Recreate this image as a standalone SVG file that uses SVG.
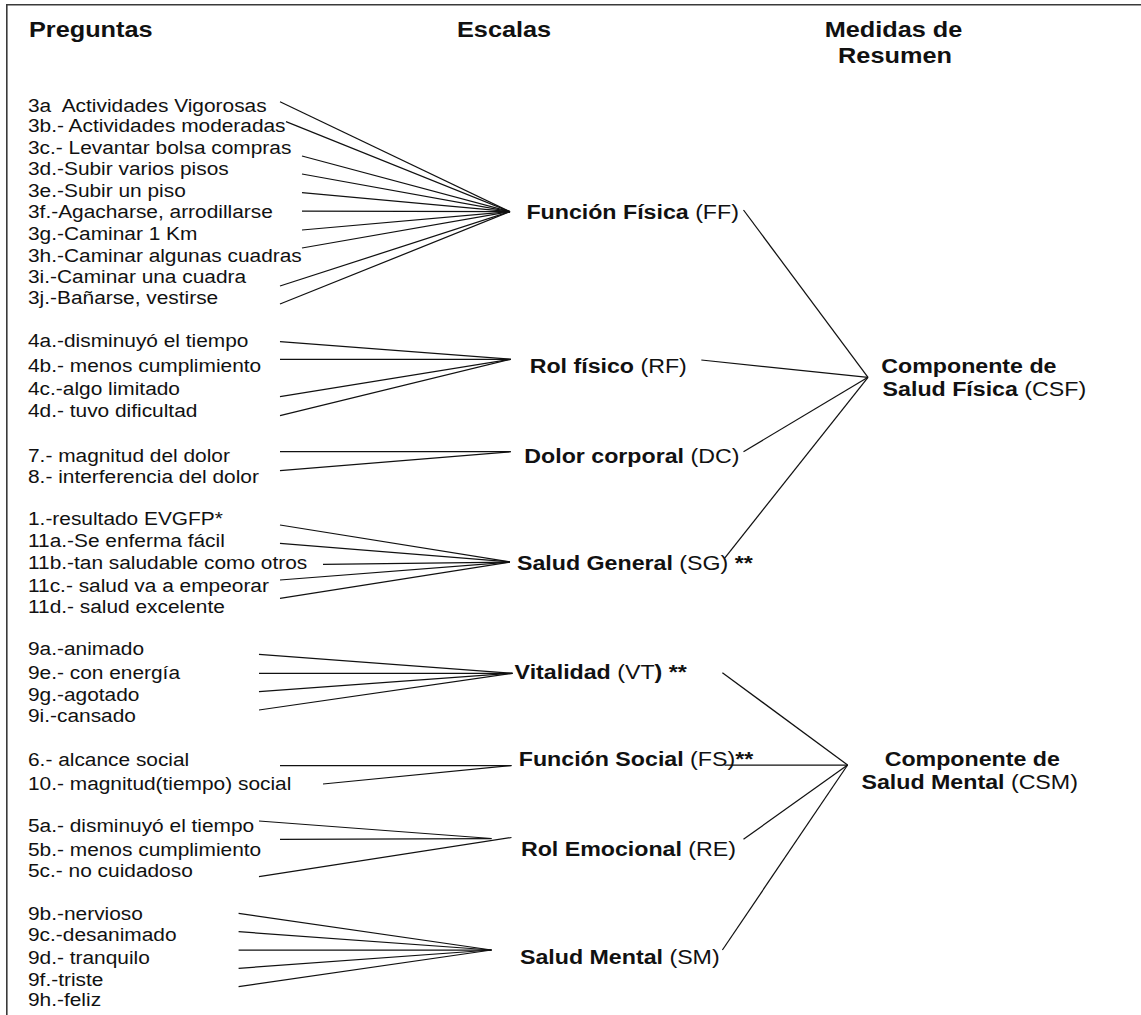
<svg xmlns="http://www.w3.org/2000/svg" width="1141" height="1015" viewBox="0 0 1141 1015">
<style>
text{font-family:"Liberation Sans",Arial,sans-serif;fill:#111}
.h{font-size:21.8px;font-weight:bold}
.s{font-size:20px}
.s .b{font-weight:bold}
.q{font-size:18px}
.c line{stroke:#111;stroke-width:1.25}
.frame{stroke:#3a3a3a;stroke-width:1.6;fill:none}
</style>
<rect width="1141" height="1015" fill="#fff"/>
<path class="frame" d="M6.8,1015 V4.8 H1141"/>
<g id="headers">
<text class="h" transform="translate(29,37) scale(1.16,1)">Preguntas</text>
<text class="h" transform="translate(457,37) scale(1.16,1)">Escalas</text>
<text class="h" text-anchor="middle" transform="translate(893.5,37) scale(1.16,1)">Medidas de</text>
<text class="h" text-anchor="middle" transform="translate(895,62.7) scale(1.16,1)">Resumen</text>
</g>
<g id="preguntas">
<text class="q" transform="translate(28,111.7) scale(1.16,1)">3a&#160; Actividades Vigorosas</text>
<text class="q" transform="translate(28,132.3) scale(1.16,1)">3b.- Actividades moderadas</text>
<text class="q" transform="translate(28,154) scale(1.16,1)">3c.- Levantar bolsa compras</text>
<text class="q" transform="translate(28,175) scale(1.16,1)">3d.-Subir varios pisos</text>
<text class="q" transform="translate(28,196.7) scale(1.16,1)">3e.-Subir un piso</text>
<text class="q" transform="translate(28,218.3) scale(1.16,1)">3f.-Agacharse, arrodillarse</text>
<text class="q" transform="translate(28,240) scale(1.16,1)">3g.-Caminar 1 Km</text>
<text class="q" transform="translate(28,261.7) scale(1.16,1)">3h.-Caminar algunas cuadras</text>
<text class="q" transform="translate(28,282.7) scale(1.16,1)">3i.-Caminar una cuadra</text>
<text class="q" transform="translate(28,304) scale(1.16,1)">3j.-Bañarse, vestirse</text>
<text class="q" transform="translate(28,346.7) scale(1.16,1)">4a.-disminuyó el tiempo</text>
<text class="q" transform="translate(28,371.7) scale(1.16,1)">4b.- menos cumplimiento</text>
<text class="q" transform="translate(28,395) scale(1.16,1)">4c.-algo limitado</text>
<text class="q" transform="translate(28,416.7) scale(1.16,1)">4d.- tuvo dificultad</text>
<text class="q" transform="translate(28,461.7) scale(1.16,1)">7.- magnitud del dolor</text>
<text class="q" transform="translate(28,483.3) scale(1.16,1)">8.- interferencia del dolor</text>
<text class="q" transform="translate(28,525) scale(1.16,1)">1.-resultado EVGFP*</text>
<text class="q" transform="translate(28,546.7) scale(1.16,1)">11a.-Se enferma fácil</text>
<text class="q" transform="translate(28,569.3) scale(1.16,1)">11b.-tan saludable como otros</text>
<text class="q" transform="translate(28,591.7) scale(1.16,1)">11c.- salud va a empeorar</text>
<text class="q" transform="translate(28,612.7) scale(1.16,1)">11d.- salud excelente</text>
<text class="q" transform="translate(28,655) scale(1.16,1)">9a.-animado</text>
<text class="q" transform="translate(28,679.3) scale(1.16,1)">9e.- con energía</text>
<text class="q" transform="translate(28,701) scale(1.16,1)">9g.-agotado</text>
<text class="q" transform="translate(28,721.7) scale(1.16,1)">9i.-cansado</text>
<text class="q" transform="translate(28,766) scale(1.16,1)">6.- alcance social</text>
<text class="q" transform="translate(28,790) scale(1.16,1)">10.- magnitud(tiempo) social</text>
<text class="q" transform="translate(28,831.7) scale(1.16,1)">5a.- disminuyó el tiempo</text>
<text class="q" transform="translate(28,856) scale(1.16,1)">5b.- menos cumplimiento</text>
<text class="q" transform="translate(28,877.3) scale(1.16,1)">5c.- no cuidadoso</text>
<text class="q" transform="translate(28,920) scale(1.16,1)">9b.-nervioso</text>
<text class="q" transform="translate(28,940.7) scale(1.16,1)">9c.-desanimado</text>
<text class="q" transform="translate(28,964) scale(1.16,1)">9d.- tranquilo</text>
<text class="q" transform="translate(28,986) scale(1.16,1)">9f.-triste</text>
<text class="q" transform="translate(28,1006) scale(1.16,1)">9h.-feliz</text>
</g>
<g id="FF"><text class="s" transform="translate(526.4,219.3) scale(1.16,1)"><tspan class="b">Función Física </tspan>(FF)</text></g>
<g id="RF"><text class="s" transform="translate(529.7,372.7) scale(1.16,1)"><tspan class="b">Rol físico </tspan>(RF)</text></g>
<g id="DC"><text class="s" transform="translate(524.3,462.7) scale(1.16,1)"><tspan class="b">Dolor corporal </tspan>(DC)</text></g>
<g id="SG"><text class="s" transform="translate(517,570) scale(1.16,1)"><tspan class="b">Salud General </tspan>(SG)<tspan class="b"> **</tspan></text></g>
<g id="VT"><text class="s" transform="translate(514.6,679.3) scale(1.16,1)"><tspan class="b">Vitalidad </tspan>(VT<tspan class="b">) **</tspan></text></g>
<g id="FS"><text class="s" transform="translate(518.8,766) scale(1.16,1)"><tspan class="b">Función Social </tspan>(FS)<tspan class="b">**</tspan></text></g>
<g id="RE"><text class="s" transform="translate(520.9,856) scale(1.16,1)"><tspan class="b">Rol Emocional </tspan>(RE)</text></g>
<g id="SM"><text class="s" transform="translate(520,964) scale(1.16,1)"><tspan class="b">Salud Mental </tspan>(SM)</text></g>
<g id="CSF">
<text class="s" transform="translate(881.3,372.7) scale(1.16,1)"><tspan class="b">Componente de</tspan></text>
<text class="s" transform="translate(882.6,396) scale(1.16,1)"><tspan class="b">Salud Física </tspan>(CSF)</text>
</g>
<g id="CSM">
<text class="s" transform="translate(884.7,766) scale(1.16,1)"><tspan class="b">Componente de</tspan></text>
<text class="s" transform="translate(861.5,789.3) scale(1.16,1)"><tspan class="b">Salud Mental </tspan>(CSM)</text>
</g>
<g id="connectors" class="c">
<line x1="280" y1="101.7" x2="510" y2="211.7"/>
<line x1="286" y1="121.7" x2="510" y2="211.7"/>
<line x1="302" y1="156" x2="510" y2="211.7"/>
<line x1="302" y1="174" x2="510" y2="211.7"/>
<line x1="302" y1="192.7" x2="510" y2="211.7"/>
<line x1="302" y1="211" x2="510" y2="211.7"/>
<line x1="302" y1="230" x2="510" y2="211.7"/>
<line x1="302" y1="248" x2="510" y2="211.7"/>
<line x1="280" y1="286" x2="510" y2="211.7"/>
<line x1="280" y1="304" x2="510" y2="211.7"/>
<line x1="280" y1="341.7" x2="510.7" y2="359.3"/>
<line x1="280" y1="359.3" x2="510.7" y2="359.3"/>
<line x1="280" y1="396.7" x2="510.7" y2="359.3"/>
<line x1="280" y1="415.7" x2="510.7" y2="359.3"/>
<line x1="280" y1="451.7" x2="510.7" y2="451.7"/>
<line x1="280" y1="470.7" x2="510.7" y2="451.7"/>
<line x1="280" y1="525" x2="510" y2="562"/>
<line x1="280" y1="543.3" x2="510" y2="562"/>
<line x1="323" y1="564.3" x2="510" y2="562"/>
<line x1="280" y1="580" x2="510" y2="562"/>
<line x1="280" y1="598.3" x2="510" y2="562"/>
<line x1="259" y1="654.3" x2="512.5" y2="673.3"/>
<line x1="259" y1="673.3" x2="512.5" y2="673.3"/>
<line x1="259" y1="691.7" x2="512.5" y2="673.3"/>
<line x1="259" y1="710" x2="512.5" y2="673.3"/>
<line x1="280" y1="765.7" x2="511.5" y2="765.5"/>
<line x1="323" y1="784" x2="511.5" y2="765.5"/>
<line x1="259" y1="821" x2="491.5" y2="838.5"/>
<line x1="280" y1="839.3" x2="491.5" y2="838.5"/>
<line x1="259" y1="876.7" x2="511.5" y2="837.5"/>
<line x1="238.6" y1="913.3" x2="491.5" y2="950"/>
<line x1="238.6" y1="931.7" x2="491.5" y2="950"/>
<line x1="238.6" y1="950" x2="491.5" y2="950"/>
<line x1="238.6" y1="968.3" x2="491.5" y2="950"/>
<line x1="238.6" y1="986.7" x2="491.5" y2="950"/>
<line x1="743.5" y1="210" x2="868" y2="377.3"/>
<line x1="701.3" y1="360" x2="868" y2="377.3"/>
<line x1="743.5" y1="451.7" x2="868" y2="377.3"/>
<line x1="724.5" y1="558.3" x2="868" y2="377.3"/>
<line x1="722.4" y1="672.7" x2="847.6" y2="765"/>
<line x1="724.5" y1="765" x2="847.6" y2="765"/>
<line x1="743.5" y1="839.3" x2="847.6" y2="765"/>
<line x1="722.4" y1="950" x2="847.6" y2="765"/>
</g>
</svg>
